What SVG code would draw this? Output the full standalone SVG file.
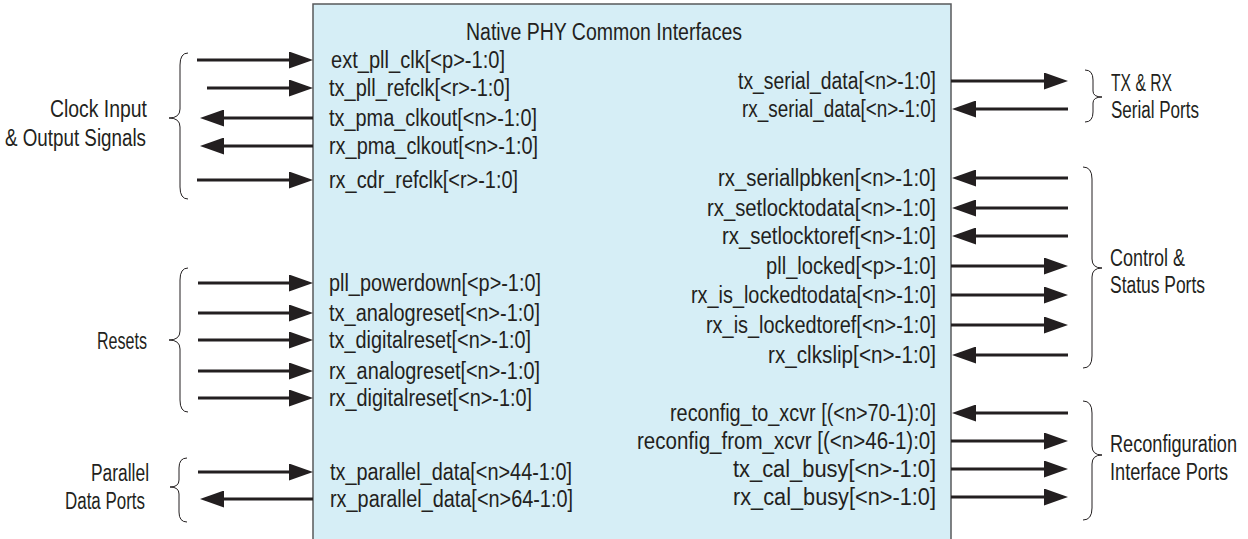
<svg xmlns="http://www.w3.org/2000/svg" width="1248" height="539" viewBox="0 0 1248 539">
<defs>
<style>
text{font-family:"Liberation Sans",Arial,sans-serif;font-size:23.5px;fill:#231f20}
.r{text-anchor:end}
.m{text-anchor:middle}
.box{fill:#d6eef6;stroke:#58595b;stroke-width:1.5}
.w{stroke:#231f20;stroke-width:2.8;fill:none}
.br{stroke:#231f20;stroke-width:1;fill:none}
</style>
<marker id="ah" viewBox="0 0 24 17" refX="13" refY="8.5" markerWidth="24" markerHeight="17" markerUnits="userSpaceOnUse" orient="auto">
<path d="M0,0 L24,8.5 L0,17 Z" fill="#231f20"/>
</marker>
</defs>
<rect width="1248" height="539" fill="#ffffff"/>
<g id="native-phy">
<rect class="box" x="313" y="4" width="638" height="545"/>
<text class="m" x="604" y="40" textLength="276" lengthAdjust="spacingAndGlyphs">Native PHY Common Interfaces</text>
<text x="331" y="68" textLength="174" lengthAdjust="spacingAndGlyphs">ext_pll_clk[&lt;p&gt;-1:0]</text>
<text x="329" y="96" textLength="181" lengthAdjust="spacingAndGlyphs">tx_pll_refclk[&lt;r&gt;-1:0]</text>
<text x="329" y="126" textLength="208" lengthAdjust="spacingAndGlyphs">tx_pma_clkout[&lt;n&gt;-1:0]</text>
<text x="329" y="154" textLength="209" lengthAdjust="spacingAndGlyphs">rx_pma_clkout[&lt;n&gt;-1:0]</text>
<text x="329" y="188" textLength="189" lengthAdjust="spacingAndGlyphs">rx_cdr_refclk[&lt;r&gt;-1:0]</text>
<text x="329" y="291" textLength="212" lengthAdjust="spacingAndGlyphs">pll_powerdown[&lt;p&gt;-1:0]</text>
<text x="329" y="321" textLength="211" lengthAdjust="spacingAndGlyphs">tx_analogreset[&lt;n&gt;-1:0]</text>
<text x="329" y="348" textLength="202" lengthAdjust="spacingAndGlyphs">tx_digitalreset[&lt;n&gt;-1:0]</text>
<text x="329" y="379" textLength="211" lengthAdjust="spacingAndGlyphs">rx_analogreset[&lt;n&gt;-1:0]</text>
<text x="329" y="406" textLength="203" lengthAdjust="spacingAndGlyphs">rx_digitalreset[&lt;n&gt;-1:0]</text>
<text x="330" y="480" textLength="242" lengthAdjust="spacingAndGlyphs">tx_parallel_data[&lt;n&gt;44-1:0]</text>
<text x="330" y="507" textLength="243" lengthAdjust="spacingAndGlyphs">rx_parallel_data[&lt;n&gt;64-1:0]</text>
<text class="r" x="936" y="89" textLength="198" lengthAdjust="spacingAndGlyphs">tx_serial_data[&lt;n&gt;-1:0]</text>
<text class="r" x="936" y="117" textLength="194" lengthAdjust="spacingAndGlyphs">rx_serial_data[&lt;n&gt;-1:0]</text>
<text class="r" x="936" y="186" textLength="218" lengthAdjust="spacingAndGlyphs">rx_seriallpbken[&lt;n&gt;-1:0]</text>
<text class="r" x="936" y="216" textLength="229" lengthAdjust="spacingAndGlyphs">rx_setlocktodata[&lt;n&gt;-1:0]</text>
<text class="r" x="936" y="244" textLength="214" lengthAdjust="spacingAndGlyphs">rx_setlocktoref[&lt;n&gt;-1:0]</text>
<text class="r" x="936" y="274" textLength="170" lengthAdjust="spacingAndGlyphs">pll_locked[&lt;p&gt;-1:0]</text>
<text class="r" x="936" y="303" textLength="245" lengthAdjust="spacingAndGlyphs">rx_is_lockedtodata[&lt;n&gt;-1:0]</text>
<text class="r" x="936" y="333" textLength="230" lengthAdjust="spacingAndGlyphs">rx_is_lockedtoref[&lt;n&gt;-1:0]</text>
<text class="r" x="936" y="363" textLength="168" lengthAdjust="spacingAndGlyphs">rx_clkslip[&lt;n&gt;-1:0]</text>
<text class="r" x="936" y="421" textLength="266" lengthAdjust="spacingAndGlyphs">reconfig_to_xcvr [(&lt;n&gt;70-1):0]</text>
<text class="r" x="936" y="449" textLength="299" lengthAdjust="spacingAndGlyphs">reconfig_from_xcvr [(&lt;n&gt;46-1):0]</text>
<text class="r" x="936" y="477" textLength="203" lengthAdjust="spacingAndGlyphs">tx_cal_busy[&lt;n&gt;-1:0]</text>
<text class="r" x="936" y="505" textLength="203" lengthAdjust="spacingAndGlyphs">rx_cal_busy[&lt;n&gt;-1:0]</text>
</g>
<g id="group-clock">
<text class="r" x="147" y="117" textLength="97" lengthAdjust="spacingAndGlyphs">Clock Input</text>
<text class="r" x="146" y="146" textLength="141" lengthAdjust="spacingAndGlyphs">&amp; Output Signals</text>
</g>
<g id="group-resets">
<text class="r" x="147" y="349" textLength="50" lengthAdjust="spacingAndGlyphs">Resets</text>
</g>
<g id="group-parallel">
<text class="r" x="149" y="481" textLength="58" lengthAdjust="spacingAndGlyphs">Parallel</text>
<text class="r" x="145" y="509" textLength="80" lengthAdjust="spacingAndGlyphs">Data Ports</text>
</g>
<g id="group-serial">
<text x="1111" y="91" textLength="61" lengthAdjust="spacingAndGlyphs">TX &amp; RX</text>
<text x="1111" y="118" textLength="88" lengthAdjust="spacingAndGlyphs">Serial Ports</text>
</g>
<g id="group-control">
<text x="1110" y="266" textLength="75" lengthAdjust="spacingAndGlyphs">Control &amp;</text>
<text x="1110" y="293" textLength="95" lengthAdjust="spacingAndGlyphs">Status Ports</text>
</g>
<g id="group-reconfig">
<text x="1110" y="452" textLength="127" lengthAdjust="spacingAndGlyphs">Reconfiguration</text>
<text x="1110" y="480" textLength="118" lengthAdjust="spacingAndGlyphs">Interface Ports</text>
</g>
<g id="braces">
<path class="br" d="M188,53 Q180,53 180,65 L180,109 Q180,118 169,118 Q180,118 180,127 L180,187 Q180,199 188,199"/>
<path class="br" d="M188,268 Q180,268 180,280 L180,331 Q180,340 169,340 Q180,340 180,349 L180,400 Q180,412 188,412"/>
<path class="br" d="M187,458 Q179,458 179,468 L179,480 Q179,487 170,487 Q179,487 179,494 L179,512 Q179,522 187,522"/>
<path class="br" d="M1085,70 Q1093,70 1093,80 L1093,91 Q1093,97 1102,97 Q1093,97 1093,103 L1093,112 Q1093,122 1085,122"/>
<path class="br" d="M1083,167 Q1092,167 1092,179 L1092,259 Q1092,268 1102,268 Q1092,268 1092,277 L1092,356 Q1092,368 1083,368"/>
<path class="br" d="M1083,401 Q1092,401 1092,413 L1092,446 Q1092,455 1102,455 Q1092,455 1092,464 L1092,508 Q1092,520 1083,520"/>
</g>
<g id="connectors">
<path class="w" marker-end="url(#ah)" d="M197,60 H302"/>
<path class="w" marker-end="url(#ah)" d="M207,88 H302"/>
<path class="w" marker-end="url(#ah)" d="M313,118 H211"/>
<path class="w" marker-end="url(#ah)" d="M313,146 H211"/>
<path class="w" marker-end="url(#ah)" d="M197,180 H302"/>
<path class="w" marker-end="url(#ah)" d="M198,283 H302"/>
<path class="w" marker-end="url(#ah)" d="M198,313 H302"/>
<path class="w" marker-end="url(#ah)" d="M198,340 H302"/>
<path class="w" marker-end="url(#ah)" d="M198,371 H302"/>
<path class="w" marker-end="url(#ah)" d="M198,398 H302"/>
<path class="w" marker-end="url(#ah)" d="M198,472 H302"/>
<path class="w" marker-end="url(#ah)" d="M313,499 H211"/>
<path class="w" marker-end="url(#ah)" d="M951,81 H1057"/>
<path class="w" marker-end="url(#ah)" d="M1068,109 H963"/>
<path class="w" marker-end="url(#ah)" d="M1068,178 H963"/>
<path class="w" marker-end="url(#ah)" d="M1068,208 H963"/>
<path class="w" marker-end="url(#ah)" d="M1068,236 H963"/>
<path class="w" marker-end="url(#ah)" d="M951,266 H1057"/>
<path class="w" marker-end="url(#ah)" d="M951,295 H1057"/>
<path class="w" marker-end="url(#ah)" d="M951,325 H1057"/>
<path class="w" marker-end="url(#ah)" d="M1068,355 H963"/>
<path class="w" marker-end="url(#ah)" d="M1068,413 H963"/>
<path class="w" marker-end="url(#ah)" d="M951,441 H1057"/>
<path class="w" marker-end="url(#ah)" d="M951,469 H1057"/>
<path class="w" marker-end="url(#ah)" d="M951,497 H1057"/>
</g>
</svg>
